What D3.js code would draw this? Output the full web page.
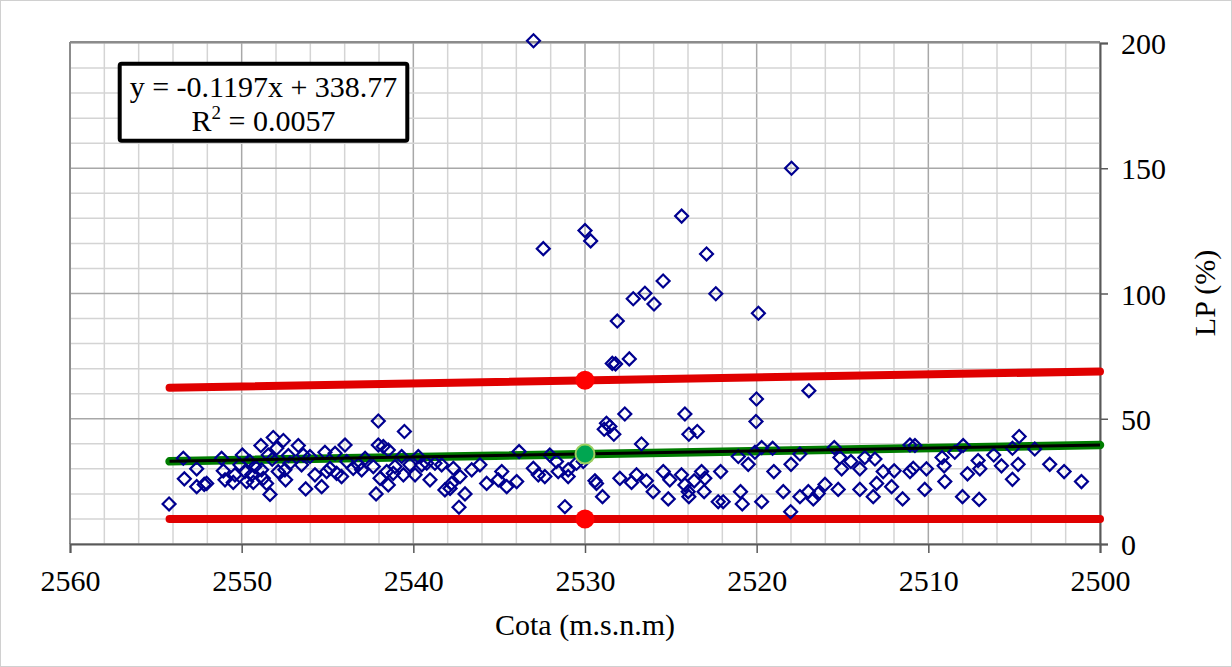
<!DOCTYPE html>
<html>
<head>
<meta charset="utf-8">
<script src="https://cdn.jsdelivr.net/npm/d3@7/dist/d3.min.js"></script>
<style>
  html, body { margin: 0; padding: 0; background: #fff; }
  svg { display: block; }
  text { font-family: "Liberation Serif", "DejaVu Serif", serif; fill: #000; }
</style>
</head>
<body>
<svg id="chart" width="1232" height="667"></svg>
<script>
// ---- data ----
const cota = [
  2554.23,2553.40,2553.34,2552.62,2552.62,2552.18,2552.04,2551.17,2551.07,2550.97,
  2550.49,2550.39,2550.10,2549.96,2549.81,2549.71,2549.52,2549.42,2549.32,2549.23,
  2548.88,2548.84,2548.74,2548.55,2548.35,2548.45,2548.22,2548.16,2547.96,2547.87,
  2547.57,2547.48,2547.44,2547.28,2547.19,2546.70,2546.51,2546.41,2546.27,2546.02,
  2545.73,2545.34,2545.15,2545.05,2544.86,2544.56,2544.47,2544.18,2543.98,2543.88,
  2542.04,2540.52,2542.04,2541.75,2541.46,2542.81,2543.20,2543.50,2543.01,2542.33,
  2541.94,2541.46,2542.17,2541.55,2541.07,2541.17,2540.68,2540.58,2540.20,2539.90,
  2539.71,2539.51,2539.22,2539.03,2538.74,2538.35,2538.16,2537.86,2537.77,2537.67,
  2537.28,2536.99,2537.34,2536.60,2536.12,2535.73,2535.05,2534.85,2534.56,2533.98,
  2533.84,2533.01,2532.72,
  2527.68,2528.75,2528.55,2528.88,2528.32,2526.71,2524.18,2523.95,2523.46,2532.05,
  2532.34,2531.66,2531.56,2530.98,2530.98,2531.17,2530.49,2530.10,2529.42,2529.33,
  2528.98,2527.97,2527.29,2527.00,2526.42,2526.03,2525.44,2525.15,2525.06,2524.38,
  2524.18,2523.99,2523.95,2523.64,2523.21,2523.02,2523.06,2522.10,2522.24,2521.95,
  2520.01,2520.04,2521.07,2520.49,2520.10,2519.71,2519.07,2519.00,2520.94,2520.84,
  2519.71,2518.45,2518.02,2518.00,2517.48,2517.48,2516.99,2516.70,2516.41,2516.02,
  2515.48,2515.15,2515.05,2515.25,2514.51,2513.99,2513.70,2513.11,2513.99,2513.21,
  2513.01,2512.63,2512.14,2511.99,2511.50,2511.07,2510.78,2511.07,2510.88,
  2510.11,2510.21,2509.20,2509.08,2509.04,2508.46,2507.97,2508.01,2507.72,2507.10,
  2507.00,2507.04,2506.19,2505.74,2505.10,2505.10,2504.71,2504.77,2503.80,2502.93,
  2502.09,2501.08,
  2533.00,2517.97,2532.43,2530.00,2529.67,2524.37,2522.92,2522.38,2525.45,2526.51,
  2527.19,2525.98,2519.90,2528.12,2528.41,2528.22,2527.42,2516.96
];
const lp = [
  16.0,34.2,26.0,30.0,22.9,23.8,24.2,34.2,29.2,25.6,
  24.6,27.6,31.6,35.5,28.9,24.9,32.9,27.6,24.6,30.9,
  39.3,29.6,26.2,24.2,19.8,35.5,33.8,42.5,38.2,28.9,
  41.3,29.6,25.6,35.3,32.2,39.3,31.6,35.5,22.0,34.9,
  27.6,22.9,36.6,28.9,30.2,36.2,28.2,26.9,39.5,32.9,
  49.1,44.9,39.5,38.9,37.5,34.2,31.6,30.2,29.6,30.9,
  26.2,23.6,20.0,28.9,30.9,28.2,34.9,27.6,31.6,27.6,
  34.9,31.6,32.2,25.6,32.2,31.6,21.6,22.2,24.2,30.2,
  26.9,20.0,14.7,29.6,31.6,24.2,25.6,28.9,22.9,24.9,
  36.9,30.2,27.6,
  51.9,48.2,46.9,45.8,43.8,39.9,51.9,43.8,44.9,35.5,
  26.9,32.9,28.9,29.6,26.9,14.9,32.2,32.9,25.2,24.2,
  18.9,26.2,24.6,27.6,25.2,20.9,28.9,18.0,25.6,27.6,
  23.6,20.9,18.9,25.2,28.9,26.2,20.9,28.9,16.9,16.9,
  57.9,48.9,34.9,31.8,36.6,38.5,38.2,28.9,20.9,16.0,
  16.9,20.9,12.9,31.8,35.9,18.9,20.9,18.0,20.2,23.8,
  38.5,34.5,30.0,21.8,32.9,30.0,34.5,33.9,21.8,18.9,
  24.2,28.9,22.9,29.2,18.0,39.5,39.3,28.9,30.2,
  30.0,21.8,34.5,31.2,24.9,36.6,39.3,18.9,28.0,33.3,
  30.0,17.8,35.5,31.2,38.2,25.8,42.9,31.8,37.9,31.8,
  28.9,24.9,
  200.9,150.0,117.9,125.1,121.0,130.9,115.8,99.9,105.0,100.1,
  97.9,95.8,92.1,89.0,72.1,71.9,73.9,61.2
];
const xTicks = [2560, 2550, 2540, 2530, 2520, 2510, 2500];
const xMinorTicks = d3.range(2560, 2499, -2);
const yTicks = [0, 50, 100, 150, 200];
const yMinorTicks = d3.range(0, 201, 10);
const lineX = [2554.2, 2500];
const upperY = [62.4, 68.9];
const lowerY = [10, 10];
const meanY = [33.0, 39.5];
const trendY = [33.04, 39.52];
const markerX = [2530, 2530];
const markerRedY = [65.4, 10];
const markerGreenY = [35.9];
const equationLines = ["y = -0.1197x + 338.77", "R", "2", " = 0.0057"];
const xTitle = "Cota (m.s.n.m)";
const yTitle = "LP (%)";

// ---- layout ----
const FS = "30px";
const svg = d3.select("#chart");
const L = 70, R = 1100, T = 43, B = 544;
const x = d3.scaleLinear().domain([2560, 2500]).range([L, R]);
const y = d3.scaleLinear().domain([0, 200]).range([B, T]);

// chart border
svg.append("rect").attr("x", 0.5).attr("y", 0.5).attr("width", 1231).attr("height", 666)
  .attr("fill", "#fff").attr("stroke", "#d0d0d0").attr("stroke-width", 1);

// gridlines
const grid = svg.append("g");
grid.selectAll(".vmin").data(xMinorTicks).join("line")
  .attr("x1", d => x(d)).attr("x2", d => x(d)).attr("y1", T).attr("y2", B)
  .attr("stroke", d => (d % 10 === 0) ? "#a8a8a8" : "#d4d4d4").attr("stroke-width", 1.5);
grid.selectAll(".hmin").data(yMinorTicks).join("line")
  .attr("x1", L).attr("x2", R).attr("y1", d => y(d)).attr("y2", d => y(d))
  .attr("stroke", d => (d % 50 === 0) ? "#a8a8a8" : "#d4d4d4").attr("stroke-width", 1.5);

// plot frame (left, top)
svg.append("line").attr("x1", L).attr("x2", L).attr("y1", T - 1).attr("y2", B)
  .attr("stroke", "#8c8c8c").attr("stroke-width", 2);
svg.append("line").attr("x1", L).attr("x2", R).attr("y1", T - 1).attr("y2", T - 1)
  .attr("stroke", "#8c8c8c").attr("stroke-width", 2);

// axes
const xAxis = svg.append("g").attr("transform", `translate(0,${B})`)
  .call(d3.axisBottom(x).tickValues(xTicks).tickFormat(d3.format("d")).tickSize(9).tickPadding(17));
const yAxis = svg.append("g").attr("transform", `translate(${R},0)`)
  .call(d3.axisRight(y).tickValues(yTicks).tickFormat(d3.format("d")).tickSize(8).tickPadding(13));
[xAxis, yAxis].forEach(a => {
  a.select(".domain").attr("stroke", "#595959").attr("stroke-width", 2);
  a.selectAll(".tick line").attr("stroke", "#595959").attr("stroke-width", 1.5);
  a.selectAll(".tick text").style("font-family", '"Liberation Serif", serif')
    .style("font-size", FS).attr("fill", "#000");
});
xAxis.selectAll(".tick text").attr("dy", "0.71em");
yAxis.selectAll(".tick text").attr("dy", "0.35em");

// limit / mean lines
const lineGen = d3.line().x(d => x(d[0])).y(d => y(d[1]));
const pts = ys => lineX.map((v, i) => [v, ys[i]]);
svg.append("path").attr("d", lineGen(pts(upperY))).attr("stroke", "#e00000")
  .attr("stroke-width", 8).attr("fill", "none").attr("stroke-linecap", "round");
svg.append("path").attr("d", lineGen(pts(lowerY))).attr("stroke", "#e00000")
  .attr("stroke-width", 8).attr("fill", "none").attr("stroke-linecap", "round");
svg.append("path").attr("d", lineGen(pts(meanY))).attr("stroke", "#007d00")
  .attr("stroke-width", 8.5).attr("fill", "none").attr("stroke-linecap", "round");

// scatter
const diamond = d3.symbol().type(d3.symbolSquare).size(84);
svg.append("g").selectAll("path").data(cota.map((c, i) => [c, lp[i]])).join("path")
  .attr("d", diamond)
  .attr("transform", d => `translate(${x(d[0])},${y(d[1])}) rotate(45)`)
  .attr("fill", "none").attr("stroke", "#000090").attr("stroke-width", 2.2);

// trendline
svg.append("path").attr("d", lineGen(pts(trendY))).attr("stroke", "#000")
  .attr("stroke-width", 3).attr("fill", "none");

// markers
svg.append("g").selectAll("circle").data(markerRedY).join("circle")
  .attr("cx", (d, i) => x(markerX[i])).attr("cy", d => y(d)).attr("r", 9.5).attr("fill", "#ff0000");
svg.append("g").selectAll("circle").data(markerGreenY).join("circle")
  .attr("cx", x(markerX[0])).attr("cy", d => y(d)).attr("r", 9.5)
  .attr("fill", "#00a651").attr("stroke", "#9ccf5f").attr("stroke-width", 2);

// equation box
svg.append("rect").attr("x", 119.7).attr("y", 63.7).attr("width", 287.6).attr("height", 77)
  .attr("rx", 2).attr("fill", "#fff").attr("stroke", "#000").attr("stroke-width", 4);
svg.append("text").attr("x", 263.5).attr("y", 97).attr("text-anchor", "middle")
  .style("font-size", FS).text(equationLines[0]);
const t2 = svg.append("text").attr("x", 263.5).attr("y", 131).attr("text-anchor", "middle")
  .style("font-size", FS);
t2.append("tspan").text(equationLines[1]);
t2.append("tspan").attr("dy", -12).style("font-size", "19px").text(equationLines[2]);
t2.append("tspan").attr("dy", 12).text(equationLines[3]);

// titles
svg.append("text").attr("x", (L + R) / 2).attr("y", 635).attr("text-anchor", "middle")
  .style("font-size", FS).text(xTitle);
svg.append("text").attr("transform", `translate(1215,293) rotate(-90)`).attr("text-anchor", "middle")
  .style("font-size", FS).text(yTitle);
</script>
</body>
</html>
